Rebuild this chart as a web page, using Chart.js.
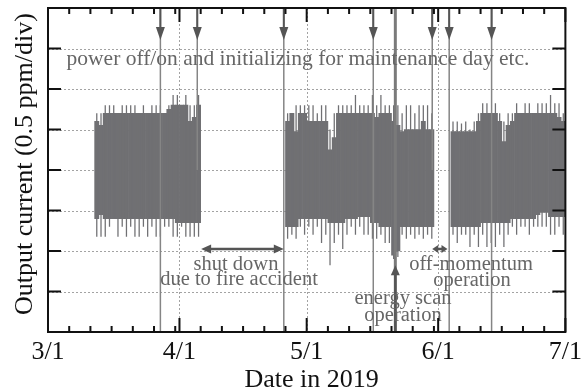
<!DOCTYPE html>
<html>
<head>
<meta charset="utf-8">
<title>Output current 2019</title>
<script src="https://cdn.jsdelivr.net/npm/chart.js@4"></script>
<style>
	html, body { margin: 0; padding: 0; background: #fff; }
	#wrap { width: 587px; height: 392px; position: relative; }
</style>
</head>
<body>
<div id="wrap"><canvas id="currentChart"></canvas></div>
<script>
// x in days counted from 3/1, y in divisions of 0.5 ppm
const monthLabels = ["3/1", "4/1", "5/1", "6/1", "7/1"];
const monthDays = [0, 31, 61, 92, 122];

// daily envelope of the output current, first entry is day 11 (3/12); null = no beam
const firstDay = 11;
const coreHi = [
	5.2, 5.1, 5.4, 5.4, 5.4, 5.4, 5.4, 5.4, 5.4, 5.4, 5.4, 5.4, 5.4, 5.4, 5.4, 5.4, 5.4, 5.5, 5.6, 5.6, 5.6, 5.6, 5.2, 5.3, 5.6,
	null, null, null, null, null, null, null, null, null, null, null, null, null, null, null, null, null, null, null, null,
	5.2, 5.4, 4.95, 5.4, 5.4, 5.2, 5.2, 5.2, 5.2, 5.2, 4.5, 4.8, 5.4, 5.4, 5.4, 5.4, 5.4, 5.4, 5.4, 5.4, 5.4, 5.3, 5.4, 5.4, 5.4, 5.2, 5.1, 4.95, 5.0, 5.0, 5.0, 5.0, 5.2, 5.0, 5.0,
	null, null, null, null,
	4.95, 4.95, 4.95, 4.95, 4.95, 4.95, 5.2, 5.4, 5.4, 5.4, 5.4, 5.2, 4.7, 5.1, 5.2, 5.4, 5.4, 5.4, 5.4, 5.4, 5.4, 5.4, 5.4, 5.4, 5.4, 5.3, 5.2
];
const coreLo = [
	2.8, 2.9, 2.8, 2.8, 2.8, 2.8, 2.8, 2.8, 2.8, 2.8, 2.8, 2.8, 2.8, 2.8, 2.8, 2.8, 2.8, 2.8, 2.8, 2.7, 2.7, 2.7, 2.7, 2.7, 2.7,
	null, null, null, null, null, null, null, null, null, null, null, null, null, null, null, null, null, null, null, null,
	2.6, 2.6, 2.6, 2.8, 2.8, 2.8, 2.8, 2.8, 2.8, 2.8, 2.7, 2.7, 2.7, 2.7, 2.8, 2.8, 2.8, 2.85, 2.85, 2.85, 2.7, 2.7, 2.6, 2.6, 2.6, 1.9, 2.0, 2.6, 2.6, 2.6, 2.6, 2.6, 2.6, 2.6, 2.6,
	null, null, null, null,
	2.6, 2.6, 2.6, 2.6, 2.6, 2.6, 2.6, 2.7, 2.7, 2.7, 2.7, 2.7, 2.7, 2.7, 2.8, 2.8, 2.8, 2.8, 2.8, 2.8, 2.9, 2.95, 2.95, 2.85, 2.85, 2.85, 2.85
];
// short excursions beyond the daily band
const peakHi = [
	5.4, 5.4, 5.6, 5.6, 5.6, 5.4, 5.6, 5.6, 5.6, 5.6, 5.4, 5.6, 5.4, 5.6, 5.6, 5.6, 5.4, 5.6, 5.85, 5.85, 5.6, 5.85, 5.6, 5.6, 5.85,
	null, null, null, null, null, null, null, null, null, null, null, null, null, null, null, null, null, null, null, null,
	5.4, 5.4, 5.6, 5.6, 5.6, 5.6, 5.6, 5.4, 5.6, 5.6, 5.0, 5.4, 5.6, 5.6, 5.6, 5.6, 5.85, 5.6, 5.6, 5.6, 5.85, 5.6, 5.85, 5.6, 5.6, 5.6, 5.6, 5.4, 5.6, 5.6, 5.4, 5.6, 5.6, 5.6, 5.4,
	null, null, null, null,
	5.2, 5.2, 5.15, 5.2, 5.0, 5.2, 5.4, 5.65, 5.65, 5.4, 5.65, 5.4, 5.2, 5.4, 5.4, 5.65, 5.4, 5.65, 5.65, 5.4, 5.65, 5.65, 5.65, 5.85, 5.65, 5.65, 5.4
];
const peakLo = [
	2.35, 2.35, 2.35, 2.6, 2.8, 2.35, 2.6, 2.35, 2.6, 2.35, 2.35, 2.6, 2.35, 2.6, 2.35, 2.35, 2.6, 2.6, 2.35, 2.35, 2.6, 2.35, 2.35, 2.35, 2.35,
	null, null, null, null, null, null, null, null, null, null, null, null, null, null, null, null, null, null, null, null,
	2.3, 2.4, 2.3, 2.6, 2.4, 2.6, 2.4, 2.6, 2.2, 2.4, 1.65, 2.2, 2.4, 2.05, 2.4, 2.6, 2.4, 2.6, 2.4, 2.4, 2.3, 2.3, 2.4, 2.2, 2.2, 1.8, 1.85, 2.4, 2.3, 2.4, 2.3, 2.4, 2.3, 2.4, 2.3,
	null, null, null, null,
	2.4, 2.2, 2.4, 2.4, 2.1, 2.4, 2.1, 2.4, 2.1, 2.2, 2.1, 2.4, 2.1, 2.4, 2.6, 2.4, 2.6, 2.6, 2.4, 2.6, 2.6, 2.6, 2.6, 2.4, 2.4, 2.6, 2.4
];

// power off/on and initialization spikes (day, lowest value reached)
const eventDays = [26.5, 35.2, 55.6, 76.7, 90.6, 94.6, 104.6];
const eventLow = [0, 4, 0, 0, 4, 0, 0];
// energy scan operation
const scanDay = 81.9;

// periods marked with double arrows
const shutdown = [36.1, 55.6];
const offMomentum = [90.6, 94.2];

const serif = "'Liberation Serif', 'Times New Roman', serif";
const markColor = "#707073";
const noteColor = "#666666";
const arrowColor = "#555555";

function band(lo, hi) {
	const out = [];
	hi.forEach(function (h, i) {
		if (h === null) return;
		out.push({ x: firstDay + i + 0.5, y: [lo[i], h] });
	});
	return out;
}

function verticals(days, lows) {
	const out = [];
	days.forEach(function (d, i) {
		out.push({ x: d, y: lows[i] }, { x: d, y: 8 }, { x: d, y: null });
	});
	return out;
}

function head(ctx, x, y, dx, dy, len, half) {
	// filled arrow head, tip at (x, y), pointing along (dx, dy)
	const bx = x - dx * len, by = y - dy * len;
	ctx.beginPath();
	ctx.moveTo(x, y);
	ctx.lineTo(bx - dy * half, by + dx * half);
	ctx.lineTo(bx + dy * half, by - dx * half);
	ctx.closePath();
	ctx.fill();
}

const decor = {
	id: "decor",
	beforeDatasetsDraw(chart) {
		const { ctx, chartArea: a, scales } = chart;
		const x = scales.x, y = scales.y;
		ctx.save();
		ctx.strokeStyle = "#a3a3a3";
		ctx.lineWidth = 1;
		ctx.setLineDash([2, 2]);
		ctx.beginPath();
		for (let v = 1; v < 8; v++) {
			const py = Math.round(y.getPixelForValue(v)) + 0.5;
			ctx.moveTo(a.left, py);
			ctx.lineTo(a.right, py);
		}
		monthDays.slice(1, -1).forEach(function (d) {
			const px = Math.round(x.getPixelForValue(d)) + 0.5;
			ctx.moveTo(px, a.top);
			ctx.lineTo(px, a.bottom);
		});
		ctx.stroke();
		ctx.restore();
	},
	afterDatasetsDraw(chart) {
		const { ctx, chartArea: a, scales } = chart;
		const x = scales.x, y = scales.y;
		ctx.save();

		// arrows on the top edge
		ctx.fillStyle = arrowColor;
		ctx.strokeStyle = arrowColor;
		ctx.lineWidth = 2;
		eventDays.forEach(function (d) {
			const px = x.getPixelForValue(d);
			ctx.beginPath();
			ctx.moveTo(px, a.top);
			ctx.lineTo(px, a.top + 21);
			ctx.stroke();
			head(ctx, px, a.top + 32, 0, 1, 13, 4.5);
		});

		// double arrows for the shut down and off-momentum periods
		ctx.lineWidth = 2.5;
		[[shutdown, 10, 4.5], [offMomentum, 6, 4]].forEach(function (p) {
			const x0 = x.getPixelForValue(p[0][0]);
			const x1 = x.getPixelForValue(p[0][1]);
			const py = y.getPixelForValue(2.05);
			ctx.beginPath();
			ctx.moveTo(x0 + p[1] - 1, py);
			ctx.lineTo(x1 - p[1] + 1, py);
			ctx.stroke();
			head(ctx, x0, py, -1, 0, p[1], p[2]);
			head(ctx, x1, py, 1, 0, p[1], p[2]);
		});

		// energy scan arrow from below
		const sx = x.getPixelForValue(scanDay);
		const sy = y.getPixelForValue(1.65);
		ctx.beginPath();
		ctx.moveTo(sx, a.bottom);
		ctx.lineTo(sx, sy + 8);
		ctx.stroke();
		head(ctx, sx, sy, 0, -1, 10, 4.5);

		// notes
		ctx.fillStyle = noteColor;
		ctx.textAlign = "center";
		ctx.textBaseline = "alphabetic";
		ctx.font = "21.5px " + serif;
		ctx.fillText("power off/on and initializing for maintenance day etc.", 298, 65);
		ctx.font = "20.5px " + serif;
		ctx.fillText("shut down", 236, 270);
		ctx.fillText("due to fire accident", 239, 285);
		ctx.fillText("off-momentum", 471, 270);
		ctx.fillText("operation", 472, 286);
		ctx.fillText("energy scan", 403, 304);
		ctx.fillText("operation", 403, 321);

		// frame and inward ticks
		ctx.strokeStyle = "#111";
		ctx.lineWidth = 2;
		ctx.strokeRect(a.left, a.top, a.right - a.left, a.bottom - a.top);
		ctx.beginPath();
		for (let v = 1; v < 8; v++) {
			const py = y.getPixelForValue(v);
			ctx.moveTo(a.left, py);
			ctx.lineTo(a.left + 13, py);
			ctx.moveTo(a.right, py);
			ctx.lineTo(a.right - 13, py);
		}
		monthDays.forEach(function (m, i) {
			const px = x.getPixelForValue(m);
			ctx.moveTo(px, a.bottom);
			ctx.lineTo(px, a.bottom - 14);
			ctx.moveTo(px, a.top);
			ctx.lineTo(px, a.top + 14);
			if (i === monthDays.length - 1) return;
			for (let k = 5; m + k < monthDays[i + 1]; k += 5) {
				const qx = x.getPixelForValue(m + k);
				ctx.moveTo(qx, a.bottom);
				ctx.lineTo(qx, a.bottom - 6);
				ctx.moveTo(qx, a.top);
				ctx.lineTo(qx, a.top + 6);
			}
		});
		ctx.stroke();

		// axis titles
		ctx.fillStyle = "#111";
		ctx.font = "26px " + serif;
		ctx.fillText("Date in 2019", (a.left + a.right) / 2 + 5, 387);
		ctx.translate(32, (a.top + a.bottom) / 2 - 6);
		ctx.rotate(-Math.PI / 2);
		ctx.fillText("Output current (0.5 ppm/div)", 0, 0);
		ctx.restore();
	}
};

new Chart(document.getElementById("currentChart"), {
	type: "bar",
	data: {
		datasets: [
			{
				type: "line",
				label: "energy scan",
				data: verticals([scanDay], [0]),
				borderColor: "#7a7a7a",
				borderWidth: 3,
				pointRadius: 0,
				spanGaps: false,
				order: 0
			},
			{
				type: "line",
				label: "events",
				data: verticals(eventDays, eventLow),
				borderColor: "#858585",
				borderWidth: 1.5,
				pointRadius: 0,
				spanGaps: false,
				order: 1
			},
			{
				label: "peaks",
				data: band(peakLo, peakHi),
				backgroundColor: markColor,
				borderWidth: 0,
				grouped: false,
				barPercentage: 0.3,
				categoryPercentage: 1,
				order: 2
			},
			{
				label: "output",
				data: band(coreLo, coreHi),
				backgroundColor: markColor,
				borderWidth: 0,
				grouped: false,
				barPercentage: 1,
				categoryPercentage: 1,
				order: 3
			}
		]
	},
	options: {
		responsive: true,
		maintainAspectRatio: false,
		animation: false,
		layout: { padding: { top: 8, right: 19, left: 0, bottom: 0 } },
		plugins: { legend: { display: false }, tooltip: { enabled: false } },
		scales: {
			x: {
				type: "linear",
				min: 0,
				max: 122,
				offset: false,
				grid: { display: false, drawTicks: false, offset: false },
				border: { display: false },
				afterBuildTicks: function (scale) {
					scale.ticks = monthDays.map(function (d) { return { value: d }; });
				},
				afterFit: function (scale) { scale.height = 60; },
				ticks: {
					autoSkip: false,
					maxRotation: 0,
					padding: 5,
					color: "#111",
					font: { family: serif, size: 26 },
					callback: function (value) { return monthLabels[monthDays.indexOf(value)]; }
				}
			},
			y: {
				min: 0,
				max: 8,
				grid: { display: false, drawTicks: false },
				border: { display: false },
				ticks: { display: false, stepSize: 1 },
				afterFit: function (scale) { scale.width = 48; }
			}
		}
	},
	plugins: [decor]
});
</script>
</body>
</html>
